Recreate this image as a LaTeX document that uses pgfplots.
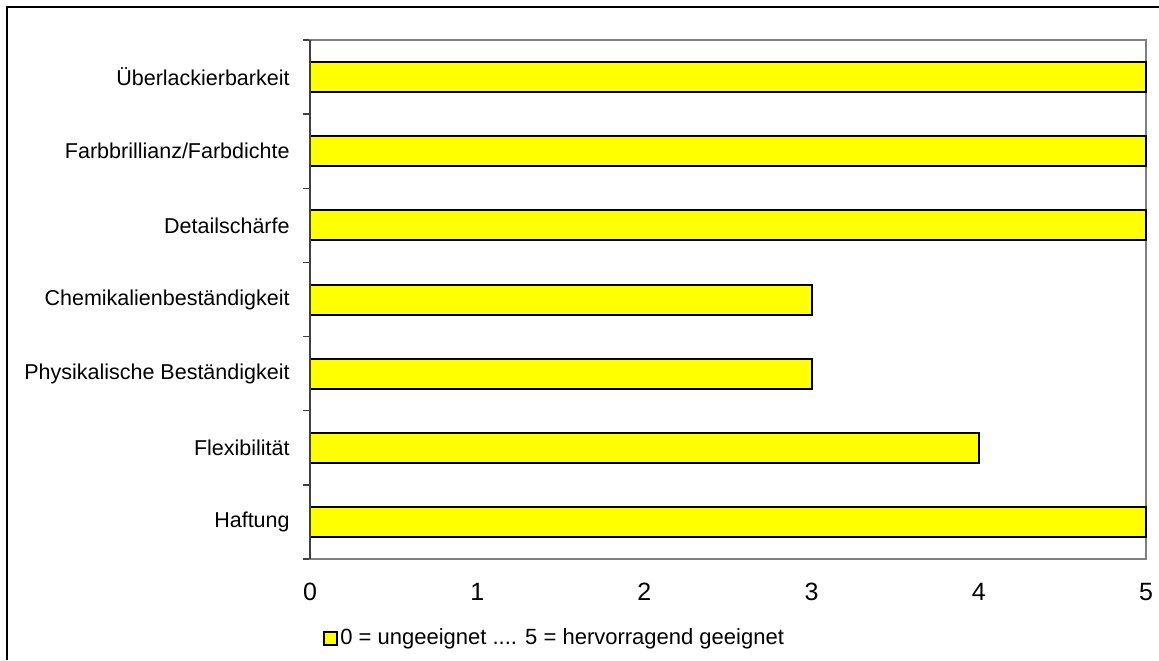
\documentclass[border=0pt]{standalone}
\usepackage{pgfplots}
\pgfplotsset{compat=1.18}
\usepackage{fontspec}
\setmainfont{Liberation Sans}
\definecolor{baryellow}{RGB}{255,255,0}
\definecolor{framegray}{RGB}{128,128,128}
\begin{document}
\begin{tikzpicture}
\useasboundingbox (-155pt,-50.5pt) rectangle (424.5pt,279.5pt);
% chart area border (only top and left edges visible)
\draw[line width=0.75pt, black] (-151.5pt,-50.5pt) -- (-151.5pt,276pt) -- (424.5pt,276pt);
\begin{axis}[
    width=418pt, height=259.5pt, scale only axis,
    xbar, bar width=15pt,
    xmin=0, xmax=5, ymin=-0.5, ymax=6.5,
    xtick={0,...,5},
    ytick={0,...,6},
    yticklabels={Haftung, Flexibilität, Physikalische Beständigkeit, Chemikalienbeständigkeit, Detailschärfe, Farbbrillianz/Farbdichte, Überlackierbarkeit},
    minor ytick={-0.5,0.5,...,6.5},
    ytick pos=left, xtick pos=bottom,
    major tick length=0pt, minor tick length=3.5pt, tick align=outside,
    tick style={black!75, line width=0.75pt},
    axis line style={framegray, line width=0.75pt},
    /pgf/number format/assume math mode=true,
    xticklabel style={font=\fontsize{12.5}{14}\selectfont, inner sep=0pt, anchor=north, yshift=-12pt},
    yticklabel style={font=\fontsize{10.75}{12}\selectfont, inner sep=0pt, anchor=east, xshift=-10pt},
    legend style={draw=none, fill=none, at={(0.0155,-0.1522)}, anchor=west,
        font=\fontsize{11}{13}\selectfont, inner sep=0pt, nodes={inner sep=1pt}},
    legend image code/.code={\draw[#1, line width=1pt] (0pt,-3.25pt) rectangle (6.5pt,3.25pt);},
    clip=false,
]
\addplot[fill=baryellow, draw=black, line width=1pt] coordinates {
    (5,0) (4,1) (3,2) (3,3) (5,4) (5,5) (5,6)
};
\addlegendentry{0 = ungeeignet .... 5 = hervorragend geeignet}
\draw[black!75, line width=0.75pt] (rel axis cs:0,0) -- (rel axis cs:0,1);
\end{axis}
\end{tikzpicture}
\end{document}
